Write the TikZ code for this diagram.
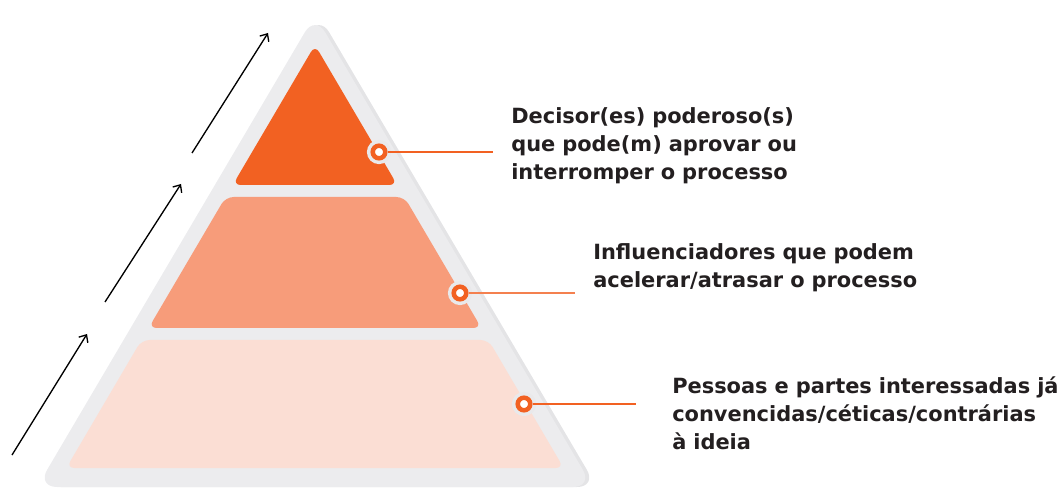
\documentclass[tikz,border=0pt]{standalone}
\usepackage{fontspec}
\setmainfont{DejaVu Sans}
\usetikzlibrary{arrows.meta}

\definecolor{pyrgray}{HTML}{ECECEE}
\definecolor{pyrshadow}{HTML}{E4E4E6}
\definecolor{pyrhalo}{HTML}{E9E9EB}
\definecolor{pyrtop}{HTML}{F26122}
\definecolor{pyrmid}{HTML}{F79C7A}
\definecolor{pyrlow}{HTML}{FBDED4}
\definecolor{pyrline}{HTML}{F4804F}
\definecolor{pyrtext}{HTML}{231F20}

\begin{document}
\begin{tikzpicture}[x=0.75pt,y=-0.75pt,
  band/.style={rounded corners=6pt},
  marker/.style={circle,inner sep=0pt,minimum size=9.4pt,fill=white,
    draw=pyrtop,line width=3.4pt,preaction={draw=pyrhalo,line width=8.6pt}},
  lead/.style={draw=pyrtop,line width=1.5pt},
  note/.style={anchor=base west,inner sep=0pt,text width=400pt,align=left,
    text=pyrtext,font=\bfseries\fontsize{15.7}{21}\selectfont},
  rise/.style={line width=1pt,-{Straight Barb[length=4.5pt,width=8pt]}}]
  \useasboundingbox (0,0) rectangle (1064,488);

  % back plate with a soft shadow on its right
  \fill[pyrshadow,rounded corners=15pt] (319,15) -- (597,487) -- (41,487) -- cycle;
  \fill[pyrgray,rounded corners=15pt] (315,15) -- (593,487) -- (37,487) -- cycle;

  % the three levels
  \fill[pyrtop,band] (315,45) -- (397.3,185) -- (232.7,185) -- cycle;
  \fill[pyrmid,band] (225.6,197) -- (404.4,197) -- (481.4,328) -- (148.6,328) -- cycle;
  \fill[pyrlow,band] (141.5,340) -- (488.5,340) -- (563.7,468) -- (66.3,468) -- cycle;

  % markers and their leads
  \node[marker] (m1) at (379,152) {};
  \node[marker] (m2) at (460,293) {};
  \node[marker] (m3) at (524,404) {};
  \coordinate (e1) at (493,152);
  \coordinate (e2) at (575,293);
  \coordinate (e3) at (636,404);
  \draw[lead] (m1) -- (e1);
  \draw[lead,draw=pyrline] (m2) -- (e2);
  \draw[lead] (m3) -- (e3);

  % texts
  \node[note] (t1) at (511,124) {Decisor(es) poderoso(s)\\que pode(m) aprovar ou\\interromper o processo};
  \node[note] (t2) at (593,260) {Influenciadores que podem\\acelerar/atrasar o processo};
  \node[note] (t3) at (672,393) {Pessoas e partes interessadas já\\convencidas/céticas/contrárias\\à ideia};

  % arrows up the left side
  \foreach \i/\xa/\ya/\xb/\yb in {1/12/455/87/334, 2/105/302/181/184, 3/192/153/268/33} {
    \coordinate (a\i) at (\xa,\ya);
    \coordinate (b\i) at (\xb,\yb);
    \draw[rise] (a\i) -- (b\i);
  }
\end{tikzpicture}
\end{document}
